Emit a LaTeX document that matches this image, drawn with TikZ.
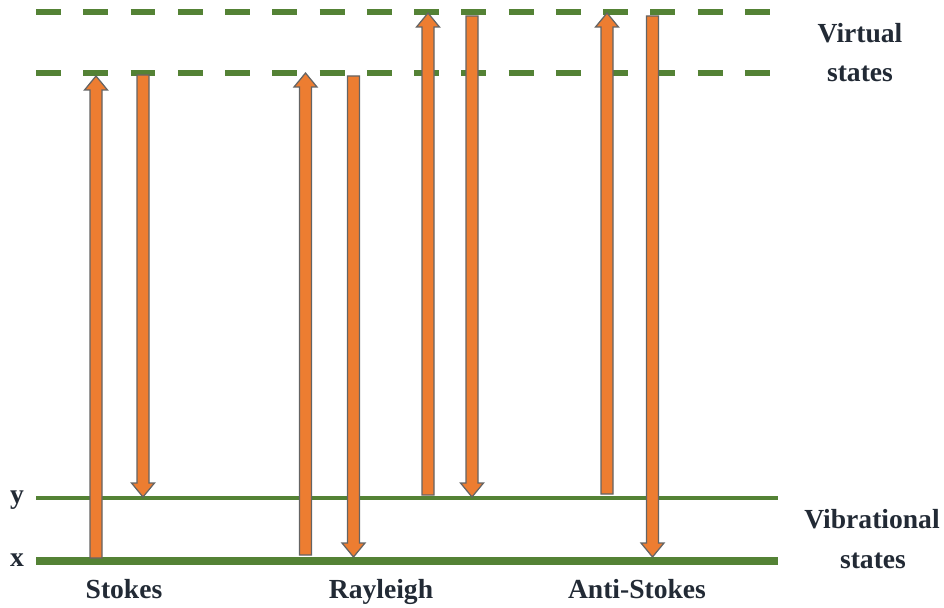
\documentclass[tikz,border=0pt]{standalone}
\usepackage{fontspec}
\setmainfont{Liberation Serif}
\definecolor{lvl}{RGB}{84,130,53}
\definecolor{arrfill}{RGB}{237,125,49}
\definecolor{arredge}{RGB}{100,100,100}
\definecolor{txt}{RGB}{34,42,53}
\newcommand{\rsUp}[3]{\draw[blockarr] (#1-6,#2) -- (#1-6,#3+14) -- (#1-11.5,#3+14) -- (#1,#3) -- (#1+11.5,#3+14) -- (#1+6,#3+14) -- (#1+6,#2) -- cycle;}
\newcommand{\rsDown}[3]{\draw[blockarr] (#1-6,#2) -- (#1-6,#3-14) -- (#1-11.5,#3-14) -- (#1,#3) -- (#1+11.5,#3-14) -- (#1+6,#3-14) -- (#1+6,#2) -- cycle;}
\begin{document}
\begin{tikzpicture}[x=0.02cm,y=-0.02cm,
  virt/.style={draw=lvl,line width=2.9pt,dash pattern=on 14.2pt off 12.7pt},
  vib/.style={draw=lvl,line width=2.5pt},
  ground/.style={draw=lvl,line width=4pt},
  blockarr/.style={fill=arrfill,draw=arredge,line width=0.7pt,line join=miter},
  lbl/.style={text=txt,font=\fontsize{15.7}{18}\selectfont\bfseries,inner sep=0pt,anchor=base}]
\useasboundingbox (0,0) rectangle (944,608);
% levels
\coordinate (v2a) at (36,12);  \coordinate (v2b) at (778,12);
\coordinate (v1a) at (36,73);  \coordinate (v1b) at (778,73);
\coordinate (ya) at (36,498);  \coordinate (yb) at (778,498);
\coordinate (xa) at (36,561);  \coordinate (xb) at (778,561);
\draw[virt] (v2a) -- (v2b);
\draw[virt] (v1a) -- (v1b);
\draw[vib] (ya) -- (yb);
\draw[ground] (xa) -- (xb);
% arrows
\rsUp{96}{558}{76}
\rsDown{143}{75}{497}
\rsUp{305.5}{555}{73}
\rsDown{353.5}{76}{557}
\rsUp{428}{495}{13}
\rsDown{472}{16}{497}
\rsUp{607}{494}{13}
\rsDown{652.5}{16}{557}
% labels
\node[lbl] (ly) at (17,503) {y};
\node[lbl] (lx) at (17,566) {x};
\node[lbl] (stokes) at (124,598) {Stokes};
\node[lbl] (rayleigh) at (381,598) {Rayleigh};
\node[lbl] (anti) at (637,598) {Anti-Stokes};
\node[lbl] (virt1) at (860,43) {Virtual};
\node[lbl] (virt2) at (860,82) {states};
\node[lbl] (vib1) at (872,528) {Vibrational};
\node[lbl] (vib2) at (873,568) {states};
\end{tikzpicture}
\end{document}
